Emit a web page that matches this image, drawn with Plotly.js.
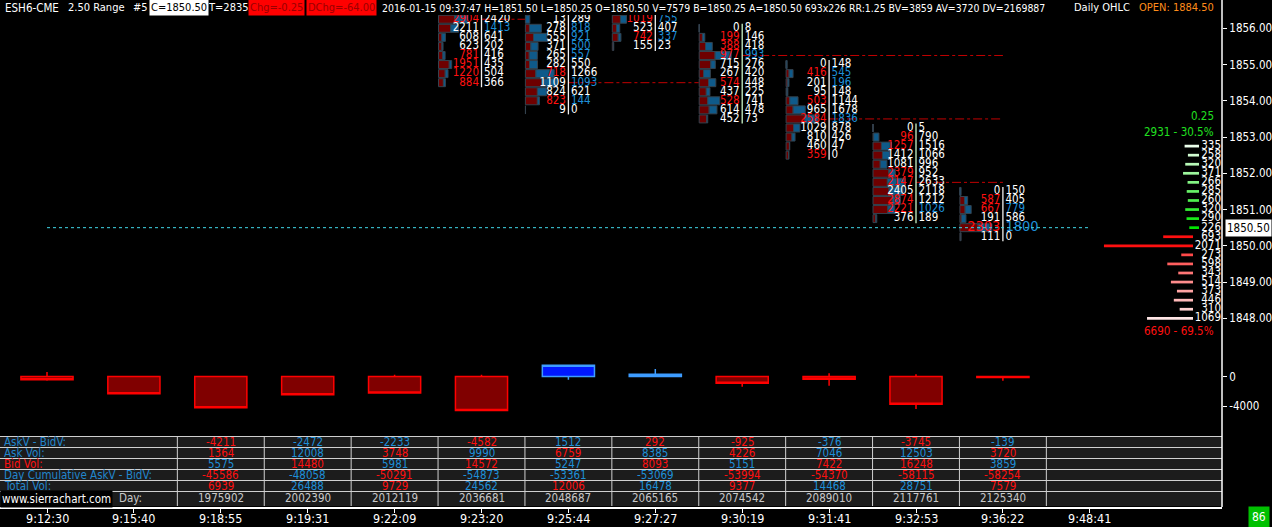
<!DOCTYPE html>
<html><head><meta charset="utf-8">
<script src="https://cdn.plot.ly/plotly-3.0.1.min.js"></script>
<style>html,body{margin:0;padding:0;background:#000;}#chart{width:1272px;height:527px;}</style>
</head><body><div id="chart"></div>
<script>
// ---------------- DATA ----------------
const timeLabels = ['9:12:30','9:15:40','9:18:55','9:19:31','9:22:09','9:23:20','9:25:44','9:27:27','9:30:19','9:31:41','9:32:53','9:36:22','9:48:41'];

// footprint (numbers bars): visible rows, highest price first
const fpBars = [5, 6, 7, 8, 9, 10, 11];
const fpHigh = [1856.25, 1856.25, 1856.25, 1856.00, 1855.00, 1853.25, 1851.50];
const fpBid = [
  [2904,2211,608,623,781,1951,1220,884],
  [13,278,555,371,265,282,718,1109,824,823,9],
  [1019,523,742,155],
  [0,199,388,977,715,267,574,437,528,614,452],
  [0,416,201,95,503,965,2584,1029,810,460,359],
  [0,96,1257,1412,1081,2379,2147,2405,2874,2221,376],
  [0,587,667,191,2303,111]
];
const fpAsk = [
  [2420,1413,641,202,416,435,504,366],
  [289,818,921,500,557,550,1266,1093,621,144,0],
  [755,407,337,23],
  [8,146,418,993,276,420,448,225,741,478,73],
  [148,545,196,148,1144,1678,1836,878,426,47,0],
  [5,790,1516,1066,996,952,2633,2118,1212,1026,189],
  [150,405,779,586,1800,0]
];
// largest row volume of bars whose top rows are off-screen (estimated)
const fpHiddenRowMax = {5: 5800, 7: 4000};
// bars whose POC line is drawn
const pocBars = [5, 6, 8, 9, 10];

// delta bars (lower pane)
const deltaOpen  = [0,0,0,0,0,0,0,0,0,0,0,0];
const deltaClose = [-450,-2340,-4211,-2472,-2233,-4582,1512,292,-925,-376,-3745,-139];
const deltaHigh  = [600,0,0,0,240,240,1512,1000,0,430,300,0];
const deltaLow   = [-570,-2340,-4211,-2472,-2233,-4582,-430,-100,-1380,-1240,-4390,-570];

// right-edge volume profile
const vpPrices = [1852.75,1852.50,1852.25,1852.00,1851.75,1851.50,1851.25,1851.00,1850.75,1850.50,
                  1850.25,1850.00,1849.75,1849.50,1849.25,1849.00,1848.75,1848.50,1848.25,1848.00];
const vpVol = [335,258,320,371,266,285,260,320,290,226,693,2071,273,598,343,514,373,446,310,1069];
const lastPrice = 1850.50;
const tickSize = 0.25;

// table
const tblCols  = [2,3,4,5,6,7,8,9,10,11];
const tblDelta = [-4211,-2472,-2233,-4582,1512,292,-925,-376,-3745,-139];
const tblAsk   = [1364,12008,3748,9990,6759,8385,4226,7046,12503,3720];
const tblBid   = [5575,14480,5981,14572,5247,8093,5151,7422,16248,3859];
const tblCum   = [-45586,-48058,-50291,-54873,-53361,-53069,-53994,-54370,-58115,-58254];
const tblTotal = [6939,26488,9729,24562,12006,16478,9377,14468,28751,7579];
const tblDay   = [1975902,2002390,2012119,2036681,2048687,2065165,2074542,2089010,2117761,2125340];
const tblLabels = ['AskV - BidV:','Ask Vol:','Bid Vol:','Day Cumulative AskV - BidV:','Total Vol:'];

const headerParts = ['ESH6-CME','2.50 Range','#5','C=1850.50','T=2835','Chg=-0.25','DChg=-64.00',
  '2016-01-15 09:37:47 H=1851.50 L=1850.25 O=1850.50 V=7579 B=1850.25 A=1850.50 693x226 RR:1.25 BV=3859 AV=3720 DV=2169887',
  'Daily OHLC','OPEN: 1884.50'];

// ---------------- STYLES (kept apart from data) ----------------
const fpBidTone = ['rwwwrrrr','wwwwwwrwwrw','rwrw','wrrrwwrwrww','wrwwrwrwwwr','wrrwwrrwrrw','wrrwrw'];
const fpAskTone = ['wbwwwwww','wbbbbwwbwbw','bwbw','wwwbwwwwwww','wbbwwwbwwww','wwwwwwwwwbw','wwbwbw'];
const fpDividerTone = ['w','w','w','g','w','g','w'];
const tblTones = [
  'rbbrbrrbrb',
  'rbrbrbrbbr',
  'brbrbrbrrb',
  'rbrbbbrrrr',
  'rbrbrbrbbr'
];
const TONE = {w:'#ffffff', r:'#ff1010', b:'#1e8fd8', g:'#c8ffc8'};
const FONT = "'DejaVu Sans Condensed', 'Liberation Sans Narrow', 'Liberation Sans', sans-serif";

// ---------------- GEOMETRY ----------------
const W = 1272, H = 527, MR = 50, MB = 20;
const PW = W - MR, PH = H - MB;
const X0PX = 47, BARPX = 86.9;
const pxToX = px => (px - X0PX) / BARPX;
const pxToPX = px => px / PW;             // paper x
const pyToPY = py => (PH - py) / PH;      // paper y
const PRICE_REF = 1856, PRICE_REF_PY = 28.3, PX_PER_PT = 36.25;
const priceTopPy = 15, priceBotPy = 350;
const priceRange = [PRICE_REF - (priceBotPy - PRICE_REF_PY) / PX_PER_PT, PRICE_REF + (PRICE_REF_PY - priceTopPy) / PX_PER_PT];
const dZeroPy = 376.5, dK = 0.0074, dTopPy = 355, dBotPy = 430;
const deltaRange = [-(dBotPy - dZeroPy) / dK, (dZeroPy - dTopPy) / dK];

// ---------------- TRACES ----------------
const traces = [];
const histBid = {x:[], y:[], base:[]}, histAsk = {x:[], y:[], base:[]};
const bidTxt = {x:[], y:[], text:[], color:[], size:[]}, askTxt = {x:[], y:[], text:[], color:[], size:[]};
const divW = {x:[], y:[]}, divG = {x:[], y:[]};
const HIST_LEFT = 43 / BARPX, HIST_MAX = 32 / BARPX, TXT_GAP = 2.5 / BARPX;

fpBars.forEach((b, k) => {
  const bids = fpBid[k], asks = fpAsk[k];
  const prices = bids.map((_, j) => fpHigh[k] - j * tickSize);
  let rowMax = fpHiddenRowMax[b] || Math.max(...bids.map((v, j) => v + asks[j]));
  prices.forEach((p, j) => {
    const bl = bids[j] / rowMax * HIST_MAX, al = asks[j] / rowMax * HIST_MAX;
    histBid.x.push(bl); histBid.y.push(p); histBid.base.push(b - HIST_LEFT);
    histAsk.x.push(al); histAsk.y.push(p); histAsk.base.push(b - HIST_LEFT + bl);
    const cur = (b === 11 && p === lastPrice);
    bidTxt.x.push(b - TXT_GAP); bidTxt.y.push(p); bidTxt.text.push(String(bids[j]));
    bidTxt.color.push(TONE[fpBidTone[k][j]]); bidTxt.size.push(cur ? 14.5 : 11.5);
    askTxt.x.push(b + TXT_GAP); askTxt.y.push(p); askTxt.text.push(String(asks[j]));
    askTxt.color.push(TONE[fpAskTone[k][j]]); askTxt.size.push(cur ? 14.5 : 11.5);
  });
  const d = fpDividerTone[k] === 'g' ? divG : divW;
  d.x.push(b, b, null);
  d.y.push(prices[0] + tickSize / 2, prices[prices.length - 1] - tickSize / 2, null);
});

traces.push({type:'bar', orientation:'h', x:histBid.x, y:histBid.y, base:histBid.base, width:0.22,
  marker:{color:'#6e0000', line:{color:'#34424e', width:1}}, hoverinfo:'skip'});
traces.push({type:'bar', orientation:'h', x:histAsk.x, y:histAsk.y, base:histAsk.base, width:0.22,
  marker:{color:'#0f5a8a', line:{color:'#34424e', width:1}}, hoverinfo:'skip'});

// volume profile bars
const VP_SCALE = 0.043 / BARPX;
const vpG = {x:[], y:[], base:[], c:[]}, vpR = {x:[], y:[], base:[], c:[]};
const greenIdx = vpPrices.map((p, i) => p >= lastPrice ? i : -1).filter(i => i >= 0);
const redIdx = vpPrices.map((p, i) => p < lastPrice ? i : -1).filter(i => i >= 0);
function mix(a, b, t){ return 'rgb(' + a.map((v, i) => Math.round(v + (b[i] - v) * t)).join(',') + ')'; }
greenIdx.forEach((i, n) => {
  vpG.x.push(-vpVol[i] * VP_SCALE); vpG.y.push(vpPrices[i]); vpG.base.push(pxToX(1199));
  vpG.c.push(mix([235,255,235], [0,230,0], n / (greenIdx.length - 1)));
});
redIdx.forEach((i, n) => {
  vpR.x.push(-vpVol[i] * VP_SCALE); vpR.y.push(vpPrices[i]); vpR.base.push(pxToX(1193));
  vpR.c.push(n < 2 ? '#ff1010' : mix([255,50,50], [255,230,230], (n - 1) / (redIdx.length - 2)));
});
traces.push({type:'bar', orientation:'h', x:vpG.x, y:vpG.y, base:vpG.base, width:0.075, marker:{color:vpG.c}, hoverinfo:'skip'});
traces.push({type:'bar', orientation:'h', x:vpR.x, y:vpR.y, base:vpR.base, width:0.075, marker:{color:vpR.c}, hoverinfo:'skip'});

traces.push({type:'scatter', mode:'lines', x:divW.x, y:divW.y, line:{color:'#f0f0f0', width:1.3}, hoverinfo:'skip'});
traces.push({type:'scatter', mode:'lines', x:divG.x, y:divG.y, line:{color:'#c8f5c8', width:1.3}, hoverinfo:'skip'});

traces.push({type:'scatter', mode:'text', x:bidTxt.x, y:bidTxt.y, text:bidTxt.text, textposition:'middle left',
  textfont:{family:FONT, size:bidTxt.size, color:bidTxt.color}, hoverinfo:'skip'});
traces.push({type:'scatter', mode:'text', x:askTxt.x, y:askTxt.y, text:askTxt.text, textposition:'middle right',
  textfont:{family:FONT, size:askTxt.size, color:askTxt.color}, hoverinfo:'skip'});
traces.push({type:'scatter', mode:'text', x:vpPrices.map(() => pxToX(1221)), y:vpPrices, text:vpVol.map(String),
  textposition:'middle left', textfont:{family:FONT, size:11.5, color:'#ffffff'}, hoverinfo:'skip'});

traces.push({type:'candlestick', x:deltaClose.map((_, i) => i), open:deltaOpen, high:deltaHigh, low:deltaLow, close:deltaClose,
  xaxis:'x', yaxis:'y2', whiskerwidth:0,
  increasing:{line:{color:'#3d9cff', width:1.5}, fillcolor:'#0018ff'},
  decreasing:{line:{color:'#ff0000', width:1.5}, fillcolor:'#800000'}, hoverinfo:'skip'});

// ---------------- SHAPES ----------------
const shapes = [];
pocBars.forEach(b => {
  const k = fpBars.indexOf(b);
  let best = -1, bestP = null;
  fpBid[k].forEach((v, j) => { const t = v + fpAsk[k][j]; if (t > best) { best = t; bestP = fpHigh[k] - j * tickSize; } });
  let end = 11;
  for (let m = k + 1; m < fpBars.length; m++) {
    const lo = fpHigh[m] - (fpBid[m].length - 1) * tickSize;
    if (bestP <= fpHigh[m] && bestP >= lo) { end = fpBars[m] - 0.5; break; }
  }
  shapes.push({type:'line', xref:'x', yref:'y', x0:b, x1:end, y0:bestP, y1:bestP, layer:'below',
    line:{color:'#c00000', width:1, dash:'dashdot'}});
});
shapes.push({type:'line', xref:'x', yref:'y', x0:0, x1:12, y0:lastPrice, y1:lastPrice,
  line:{color:'#40d8e8', width:1, dash:'dot'}});
const rowTops = [436.5, 447.5, 458.5, 469.5, 480.5, 491.5];
const tblBottom = 506;
shapes.push({type:'rect', xref:'paper', yref:'paper', x0:0, x1:1, y0:pyToPY(tblBottom), y1:pyToPY(rowTops[0]),
  fillcolor:'#1c1c1c', line:{width:0}, layer:'below'});
rowTops.forEach(t => shapes.push({type:'line', xref:'paper', yref:'paper', x0:0, x1:1, y0:pyToPY(t), y1:pyToPY(t),
  line:{color:'#d0d0d0', width:1}}));
for (let i = 1; i <= 11; i++) {
  shapes.push({type:'line', xref:'x', yref:'paper', x0:i + 0.5, x1:i + 0.5, y0:pyToPY(tblBottom), y1:pyToPY(rowTops[0]),
    line:{color:'#d0d0d0', width:1}});
}
shapes.push({type:'line', xref:'paper', yref:'paper', x0:1, x1:1, y0:0, y1:1, line:{color:'#ffffff', width:1.5}});

// ---------------- ANNOTATIONS ----------------
const ann = [];
function txt(xpx, ypx, text, color, opts) {
  ann.push(Object.assign({xref:'paper', yref:'paper', x:pxToPX(xpx), y:pyToPY(ypx), text:text, showarrow:false,
    xanchor:'left', yanchor:'middle', font:{family:FONT, size:11.5, color:color}}, opts || {}));
}
const headerX = [3, 66, 131, 149, 206, 248, 306, 380, 1072, 1137];
const headerSize = [11.5, 11, 11, 11, 11, 11, 11, 10.4, 11, 11];
headerParts.forEach((t, i) => {
  let color = '#ffffff', bg = null;
  if (i === 3) { color = '#000000'; bg = '#ffffff'; }
  if (i === 5 || i === 6) { color = '#9a0000'; bg = '#ff0000'; }
  if (i === 9) color = '#ff8c1a';
  const o = {borderpad:1, font:{family:FONT, size:headerSize[i], color:color}};
  if (bg) o.bgcolor = bg;
  txt(headerX[i], 8, t, color, o);
});
const vpAskSum = greenIdx.reduce((s, i) => s + vpVol[i], 0);
const vpBidSum = redIdx.reduce((s, i) => s + vpVol[i], 0);
const vpTot = vpAskSum + vpBidSum;
txt(1216, 116, tickSize.toFixed(2), '#20e020', {xanchor:'right'});
txt(1216, 132, vpAskSum + ' - ' + (vpAskSum / vpTot * 100).toFixed(1) + '%', '#20e020', {xanchor:'right'});
txt(1216, 331, vpBidSum + ' - ' + (vpBidSum / vpTot * 100).toFixed(1) + '%', '#ff1010', {xanchor:'right'});
ann.push({xref:'paper', yref:'y', x:pxToPX(1225), y:lastPrice, text:lastPrice.toFixed(2), showarrow:false,
  xanchor:'left', yanchor:'middle', bgcolor:'#ffffff', borderpad:1, font:{family:FONT, size:11.5, color:'#000000'}});
// time labels under the axis
timeLabels.forEach((t, i) => ann.push({xref:'x', yref:'paper', x:i, y:pyToPY(518), text:t, showarrow:false,
  xanchor:'center', yanchor:'middle', font:{family:FONT, size:12.5, color:'#ffffff'}}));
// table
const rowCenters = [442, 453, 464, 475, 486, 497.5];
const tblRows = [tblDelta, tblAsk, tblBid, tblCum, tblTotal];
tblLabels.forEach((l, r) => txt(2, rowCenters[r], l, r === 2 ? '#ff1010' : '#2286cc'));
tblRows.forEach((row, r) => row.forEach((v, c) => {
  ann.push({xref:'x', yref:'paper', x:tblCols[c], y:pyToPY(rowCenters[r]), text:String(v), showarrow:false,
    xanchor:'center', yanchor:'middle', font:{family:FONT, size:11.5, color:TONE[tblTones[r][c]]}});
}));
tblDay.forEach((v, c) => ann.push({xref:'x', yref:'paper', x:tblCols[c], y:pyToPY(rowCenters[5]), text:String(v),
  showarrow:false, xanchor:'center', yanchor:'middle', font:{family:FONT, size:11.5, color:'#c8c8c8'}}));
txt(117, rowCenters[5], 'Day:', '#c8c8c8');
txt(0, 499, 'www.sierrachart.com', '#ffffff', {bgcolor:'#000000', borderpad:1});
ann.push({xref:'paper', yref:'paper', x:pxToPX(1270), y:pyToPY(517), text:'86', showarrow:false, xanchor:'right',
  yanchor:'middle', bgcolor:'#00c000', borderpad:3, font:{family:FONT, size:12, color:'#ffffff'}});

// ---------------- LAYOUT ----------------
const axFont = {family:FONT, size:11.5, color:'#ffffff'};
const layout = {
  width:W, height:H, margin:{l:0, r:MR, t:0, b:MB, pad:0},
  paper_bgcolor:'#000000', plot_bgcolor:'#000000', showlegend:false,
  barmode:'overlay', boxgap:0.4, boxgroupgap:0, dragmode:false, hovermode:false,
  xaxis:{range:[pxToX(0), pxToX(PW)], domain:[0,1], anchor:'free', position:0,
    tickvals:timeLabels.map((_, i) => i), showticklabels:false, ticks:'outside', ticklen:4, tickcolor:'#ffffff',
    showline:true, linecolor:'#ffffff', linewidth:1.5, showgrid:false, zeroline:false,
    rangeslider:{visible:false}, fixedrange:true},
  yaxis:{domain:[pyToPY(priceBotPy), pyToPY(priceTopPy)], range:priceRange, side:'right', anchor:'x',
    dtick:1, tick0:1848, tickformat:'.2f', ticks:'outside', ticklen:4, tickcolor:'#ffffff', showgrid:false,
    zeroline:false, showline:false, tickfont:axFont, fixedrange:true},
  yaxis2:{domain:[pyToPY(dBotPy), pyToPY(dTopPy)], range:deltaRange, side:'right', anchor:'x',
    tickvals:[0,-4000], ticktext:['0','-4000'], ticks:'outside', ticklen:4, tickcolor:'#ffffff', showgrid:false,
    zeroline:false, showline:false, tickfont:axFont, fixedrange:true},
  shapes:shapes, annotations:ann
};
Plotly.newPlot('chart', traces, layout, {displayModeBar:false, staticPlot:true});
</script></body></html>
